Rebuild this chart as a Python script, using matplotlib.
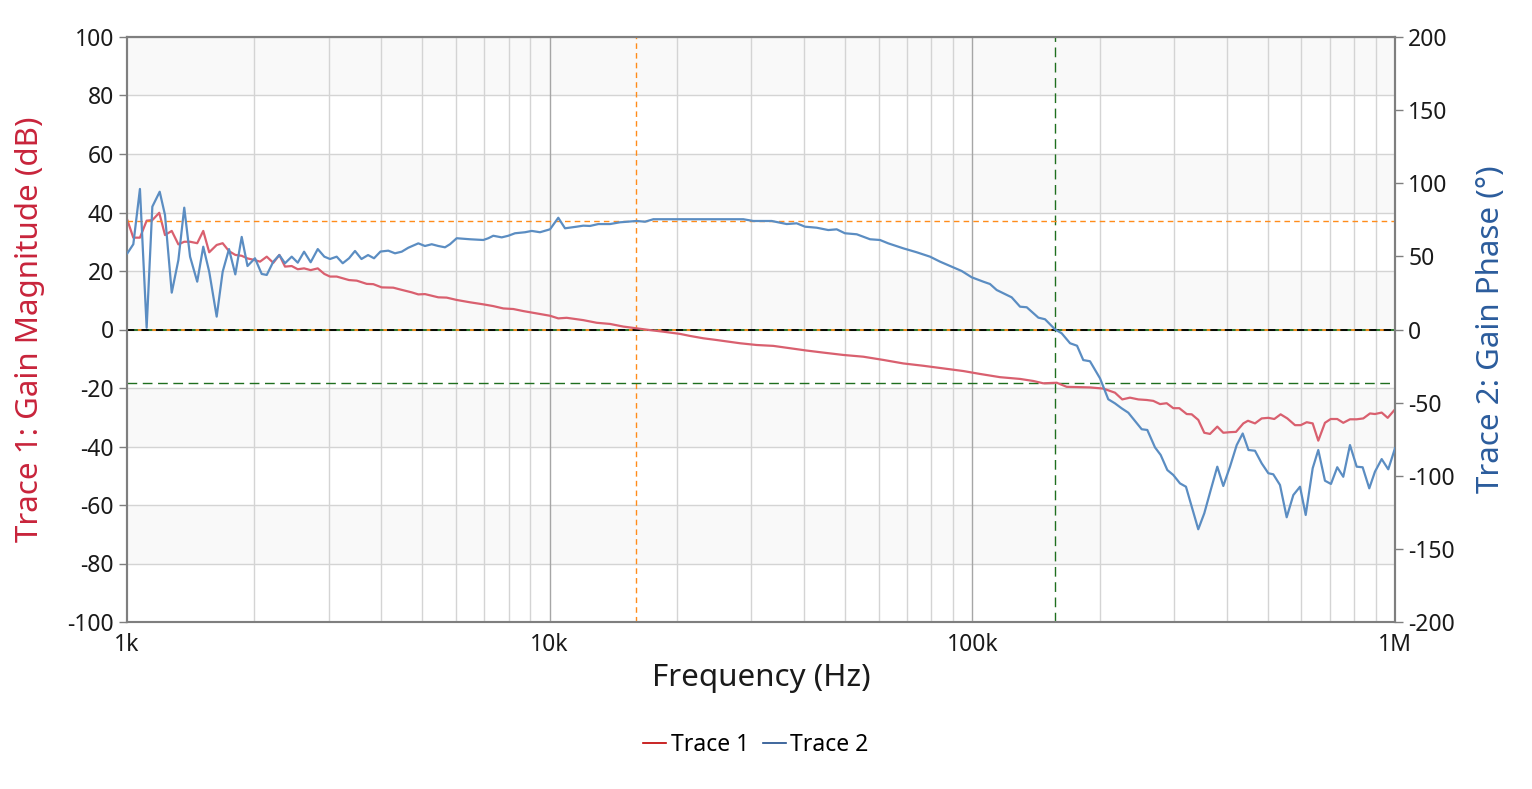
import matplotlib
matplotlib.use("Agg")
import matplotlib.pyplot as plt
import numpy as np
from matplotlib.lines import Line2D

plt.rcParams['font.family'] = ['Noto Sans', 'DejaVu Sans']
plt.rcParams['axes.unicode_minus'] = False

# ---- data ----
freq_mag = [1002, 1035, 1073, 1113, 1148, 1192, 1230, 1276, 1323, 1366, 1410, 1466, 1515, 1565,
            1630, 1684, 1743, 1804, 1868, 1928, 1998, 2064, 2141, 2219, 2293, 2365, 2453, 2535,
            2624, 2720, 2827, 2930, 3022, 3134, 3239, 3352, 3496, 3691, 3826, 4005, 4266, 4425,
            4716, 4889, 5070, 5452, 5706, 6026, 6479, 6966, 7355, 7769, 8204, 8661, 9318, 10018,
            10481, 10971, 12012, 12921, 13893, 14934, 16066, 17276, 18573, 20341, 21478, 23090,
            24848, 28200, 30890, 33810, 37040, 40560, 44410, 49510, 55210, 61560, 68646, 76560,
            85360, 95200, 104300, 116300, 129700, 139400, 147200, 158400, 167200, 189800, 204100,
            217500, 226300, 236000, 247000, 258600, 268000, 278000, 288300, 298900, 308800,
            321500, 330400, 342400, 353800, 365000, 379800, 392400, 407000, 420600, 437700,
            448900, 466400, 483700, 501600, 518100, 536300, 556200, 580000, 598300, 618200,
            638600, 658400, 682800, 704500, 730100, 754400, 782500, 811600, 841400, 872700,
            896600, 930000, 961000, 1000000]
mag_db = [37.4, 31.4, 31.4, 37.2, 37.4, 39.9, 32.3, 33.7, 29.1, 30.0, 30.0, 29.5, 33.7, 26.4,
          28.9, 29.5, 26.8, 25.5, 25.2, 24.3, 23.8, 23.2, 24.9, 22.8, 25.5, 21.5, 21.7, 20.6,
          20.9, 20.3, 20.9, 19.0, 18.1, 18.1, 17.5, 16.9, 16.7, 15.6, 15.5, 14.4, 14.3, 13.7,
          12.7, 12.0, 12.1, 11.0, 10.9, 10.1, 9.3, 8.6, 8.0, 7.2, 7.0, 6.3, 5.5, 4.7,
          3.8, 4.0, 3.2, 2.3, 1.9, 1.0, 0.4, -0.2, -0.75, -1.5, -2.2, -3.0,
          -3.6, -4.7, -5.3, -5.6, -6.4, -7.2, -7.9, -8.7, -9.3, -10.4, -11.6, -12.4,
          -13.3, -14.2, -15.2, -16.3, -16.9, -17.6, -18.4, -18.2, -19.6, -19.8, -20.2,
          -21.6, -23.9, -23.3, -23.9, -24.1, -24.4, -25.5, -25.2, -26.9, -26.9,
          -28.9, -29.0, -30.9, -35.3, -35.7, -33.2, -35.3, -35.1, -35.0, -32.1,
          -31.2, -32.1, -30.4, -30.2, -30.6, -29.0, -30.4, -32.7, -32.7, -31.7,
          -32.1, -38.0, -31.9, -30.6, -30.6, -31.9, -30.7, -30.7, -30.4, -28.7,
          -28.9, -28.4, -30.2, -27.3]

freq_phase = [1002, 1035, 1073, 1113, 1148, 1195, 1230, 1276, 1323, 1366, 1410, 1466, 1515, 1565,
              1630, 1684, 1743, 1804, 1868, 1928, 2008, 2083, 2141, 2219, 2293, 2365, 2453, 2535,
              2624, 2720, 2827, 2930, 3022, 3134, 3239, 3352, 3463, 3587, 3718, 3841, 3979, 4151,
              4306, 4466, 4629, 4889, 5070, 5259, 5452, 5654, 5810, 6026, 6479, 6966, 7158, 7355,
              7701, 7983, 8279, 8743, 9069, 9487, 10018, 10481, 10871, 11588, 12012, 12458, 13035,
              13893, 14667, 16066, 16811, 17589, 22685, 28717, 30327, 33513, 36375, 38414, 40188,
              42834, 45627, 47766, 49955, 53273, 57280, 60464, 63256, 68646, 73862, 79415, 83849,
              89380, 94365, 99655, 106150, 110100, 114190, 123900, 129700, 134500, 143300, 148600,
              156900, 162700, 170300, 176900, 183000, 189800, 200500, 209700, 217500, 225600,
              233900, 242600, 251600, 259400, 270500, 279000, 289300, 298900, 309900, 320200,
              330400, 342400, 353800, 366400, 379800, 392400, 407000, 422200, 436200, 450200,
              466400, 483700, 501600, 515200, 534400, 554300, 574700, 596000, 614800, 638600,
              658400, 682800, 705500, 730100, 754400, 782500, 811600, 838400, 869200, 896600,
              930000, 964000, 1000000]
phase_deg = [52.1, 58.3, 96.1, 1.2, 84.0, 94.2, 78.3, 25.2, 47.5, 83.3, 49.8, 32.7, 56.6, 39.5,
             8.8, 39.5, 55.0, 37.7, 63.3, 43.4, 48.7, 38.0, 37.3, 46.4, 50.9, 45.3, 49.8, 45.7,
             53.2, 46.0, 55.0, 49.8, 48.2, 49.8, 45.3, 48.7, 53.7, 48.2, 50.9, 48.7, 53.3, 53.9,
             52.1, 53.2, 55.9, 58.9, 57.1, 58.3, 57.1, 56.2, 58.3, 62.4, 61.7, 61.2, 62.4, 64.1,
             63.0, 64.1, 65.8, 66.5, 67.4, 66.5, 68.5, 76.4, 69.2, 70.3, 71.0, 70.8, 72.1,
             72.1, 73.3, 74.2, 73.7, 75.4, 75.4, 75.4, 74.2, 74.2, 72.1, 72.6, 70.3,
             69.6, 68.0, 68.5, 65.8, 65.1, 61.7, 61.2, 58.9, 55.5, 52.8, 49.8, 46.4,
             42.9, 40.0, 35.7, 32.7, 31.1, 27.0, 22.0, 15.6, 15.2, 8.1, 7.0,
             0.1, -2.6, -9.4, -11.1, -20.9, -21.7, -33.4, -47.7, -50.5, -53.9,
             -56.9, -62.6, -68.2, -68.7, -80.6, -85.8, -96.1, -99.5, -105.2, -107.5,
             -121.2, -136.6, -125.7, -109.8, -93.8, -107.0, -93.8, -79.0, -71.1, -82.4,
             -82.9, -91.5, -98.3, -99.0, -106.3, -128.4, -113.2, -107.5, -126.8, -94.9,
             -82.4, -103.4, -105.6, -94.2, -100.7, -79.0, -93.8, -94.2, -108.6, -97.2,
             -88.6, -95.6, -81.2]

crossover_freq = 16000       # Hz
phase_margin = 74.2          # deg
gm_freq = 157000             # Hz
gain_margin_db = -18.3       # dB

mag_ticks = list(range(-100, 101, 20))
phase_ticks = list(range(-200, 201, 50))
freq_ticks = [1e3, 1e4, 1e5, 1e6]
freq_labels = ['1k', '10k', '100k', '1M']

# ---- style ----
red_line = '#d9606f'
blue_line = '#5b8dc2'
red_label = '#c8243b'
blue_label = '#2b5c9c'
orange = '#ff8c1a'
green = '#1f6f1f'
spine_col = '#7f7f7f'

fig = plt.figure(figsize=(15.32, 7.89), dpi=100)
ax = fig.add_axes([127/1532, 1-622/789, (1395-127)/1532, (622-37)/789])
ax2 = ax.twinx()

ax.set_xscale('log')
ax.set_xlim(1e3, 1e6)
ax.set_ylim(-100, 100)
ax2.set_ylim(-200, 200)

# alternating bands
for i, lo in enumerate(range(80, -101, -20)):
    if i % 2 == 0:
        ax.axhspan(lo, lo + 20, color='#f9f9f9', zorder=0, lw=0)

# grid
for t in mag_ticks:
    ax.axhline(t, color='#d4d4d4', lw=1.0, zorder=0.5)
for dec in [1e3, 1e4, 1e5]:
    for m in range(2, 10):
        ax.axvline(dec * m, color='#d4d4d4', lw=1.0, zorder=0.5)
for dec in [1e4, 1e5]:
    ax.axvline(dec, color='#a6a6a6', lw=1.0, zorder=0.6)

# reference lines
ax.axvline(crossover_freq, color=orange, lw=1.0, ls=(0, (4, 3)), zorder=1)
ax.axvline(gm_freq, color=green, lw=1.0, ls=(0, (7, 4)), zorder=1)
ax.axhline(gain_margin_db, color=green, lw=1.0, ls=(0, (7, 4)), zorder=1)
ax2.axhline(phase_margin, color=orange, lw=1.0, ls=(0, (4, 3)), zorder=1)
ax.axhline(0, color=green, lw=1.3, ls='-', zorder=1)
ax.axhline(0, color=orange, lw=1.3, ls=(2, (3, 5)), zorder=1.1)
ax.axhline(0, color='black', lw=1.3, ls=(0, (4, 4)), zorder=1.2)

# traces
ax.plot(freq_mag, mag_db, color=red_line, lw=1.6, zorder=3)
ax2.plot(freq_phase, phase_deg, color=blue_line, lw=1.6, zorder=3)

# ticks
ax.set_xticks(freq_ticks)
ax.set_xticklabels(freq_labels)
ax.xaxis.set_minor_locator(matplotlib.ticker.NullLocator())
ax.set_yticks(mag_ticks)
ax2.set_yticks(phase_ticks)
ax.tick_params(axis='both', labelsize=16.5, colors='#7f7f7f', labelcolor='#1a1a1a', length=6, width=1)
ax.tick_params(axis='x', length=0, pad=8)
ax2.tick_params(axis='y', labelsize=16.5, colors='#7f7f7f', labelcolor='#1a1a1a', length=6, width=1)

for a in (ax, ax2):
    for s in a.spines.values():
        s.set_color(spine_col)
        s.set_linewidth(1.5)
ax.spines['bottom'].set_color('#bfbfbf')
ax.patch.set_alpha(1)
ax2.patch.set_alpha(0)

ax.set_xlabel('Frequency (Hz)', fontsize=22.5, color='#1a1a1a', labelpad=4)
ax.set_ylabel('Trace 1: Gain Magnitude (dB)', fontsize=22.5, color=red_label, labelpad=16)
ax2.set_ylabel('Trace 2: Gain Phase (°)', fontsize=22.5, color=blue_label, labelpad=15)

handles = [Line2D([], [], color='#c00000', lw=1.2), Line2D([], [], color='#1f4e8c', lw=1.2)]
fig.legend(handles, ['Trace 1', 'Trace 2'], loc='center', bbox_to_anchor=(756/1532, 1-745/789),
           ncol=2, frameon=False, fontsize=16.5, handlelength=1.0, handletextpad=0.2,
           columnspacing=0.6)

fig.savefig('out.png', dpi=100)
